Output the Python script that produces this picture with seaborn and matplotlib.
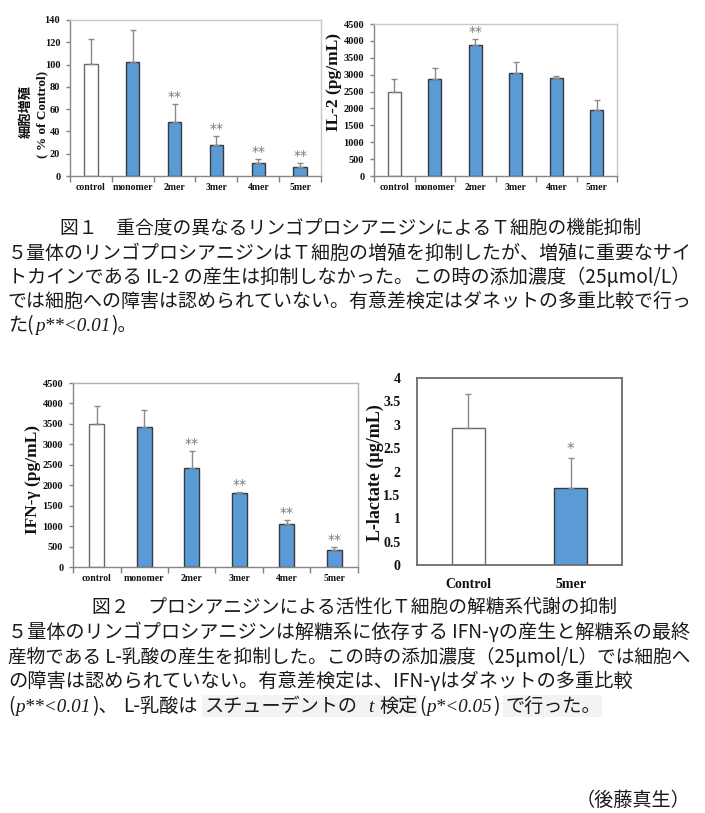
import numpy as np
import pandas as pd
import matplotlib
matplotlib.use('Agg')
import matplotlib.pyplot as plt
import seaborn as sns
from matplotlib.patches import Rectangle

# ---------------- data ----------------
categories = ['control', 'monomer', '2mer', '3mer', '4mer', '5mer']

prolif_mean = [100.2, 102.5, 48.5, 27.5, 11.9, 8.3]
prolif_sd = [22.4, 28.5, 15.8, 8.4, 3.6, 3.1]
prolif_sig = ['', '', '**', '**', '**', '**']

il2_mean = [2477, 2872, 3868, 3049, 2891, 1964]
il2_sd = [405, 316, 188, 316, 70, 276]
il2_sig = ['', '', '**', '', '', '']

ifng_mean = [3489, 3432, 2429, 1802, 1052, 424]
ifng_sd = [448, 416, 416, 24, 106, 57]
ifng_sig = ['', '', '**', '**', '**', '**']

lact_categories = ['Control', '5mer']
lact_mean = [2.92, 1.64]
lact_sd = [0.74, 0.64]
lact_sig = ['', '*']

# ---------------- style ----------------
sns.set_theme(style='white')
JP = ['Noto Sans CJK JP', 'DejaVu Sans']
plt.rcParams['font.family'] = ['Liberation Serif', 'Noto Sans CJK JP', 'DejaVu Sans']

W, H = 705, 813
fig = plt.figure(figsize=(W / 100, H / 100), dpi=100)
fig.patch.set_facecolor('white')
renderer = fig.canvas.get_renderer()

BLUE = '#5B9BD5'


def add_ax(l, t, r, b):
    return fig.add_axes([l / W, 1 - b / H, (r - l) / W, (b - t) / H])


def draw_panel(ax, cats, means, sds, sigs, ymax, ystep, ytick_fs, xtick_fs,
               spine_main, spine_light, star_fs, star_off, ypad, xpad,
               boundary_ticks=True, ytick_len=3, fmt=None, spine_lw=1.0):
    n = len(cats)
    df = pd.DataFrame({'cat': cats, 'val': means})
    fills = ['white'] + [BLUE] * (n - 1)
    sns.barplot(data=df, x='cat', y='val', hue='cat', palette=fills, width=0.32,
                legend=False, ax=ax, errorbar=None, saturation=1)
    edges = ['#6a6a6a'] + ['#3a3a3a'] * (n - 1)
    for cont, ec in zip(ax.containers, edges):
        for p in cont:
            p.set_edgecolor(ec)
            p.set_linewidth(1.0)
    xs = np.arange(n)
    ax.errorbar(xs, means, yerr=[np.zeros(n), sds], fmt='none', ecolor='#8a8a8a',
                elinewidth=1, capsize=2.5, capthick=1, zorder=1)
    for x, m, s, sg in zip(xs, means, sds, sigs):
        if sg:
            ax.annotate(sg, xy=(x, m + s), xytext=(0, star_off), textcoords='offset points',
                        ha='center', va='bottom', fontsize=star_fs, color='#7a7a7a',
                        family='DejaVu Sans')
    ax.set_xlim(-0.5, n - 0.5)
    ax.set_ylim(0, ymax)
    ticks = np.arange(0, ymax + ystep / 2, ystep)
    ax.set_yticks(ticks)
    if fmt is not None:
        ax.set_yticklabels([fmt(t) for t in ticks])
    ax.set_xlabel('')
    ax.set_ylabel('')
    ax.tick_params(axis='x', which='major', length=0, pad=xpad, labelsize=xtick_fs,
                   colors='#111111')
    if boundary_ticks:
        ax.set_xticks(np.arange(-0.5, n), minor=True)
        ax.tick_params(axis='x', which='minor', length=4, direction='out', color='#808080',
                       bottom=True, width=1)
    ax.tick_params(axis='y', length=ytick_len, direction='out', color='#808080', left=True,
                   pad=ypad, labelsize=ytick_fs, width=1, labelcolor='#111111')
    for lab in ax.get_xticklabels() + ax.get_yticklabels():
        lab.set_fontweight('bold')
        lab.set_fontfamily('Liberation Serif')
    for side in ['left', 'bottom']:
        ax.spines[side].set_color(spine_main)
        ax.spines[side].set_linewidth(spine_lw)
    for side in ['top', 'right']:
        ax.spines[side].set_color(spine_light)
        ax.spines[side].set_linewidth(spine_lw)
    ax.set_facecolor('white')


# Panel 1: proliferation
ax1 = add_ax(70, 20, 321, 176)
draw_panel(ax1, categories, prolif_mean, prolif_sd, prolif_sig, 140, 20, 7.5, 7,
           '#868686', '#c8c8c8', 10, 0, 4, 5)
fig.text(26 / W, 1 - 111 / H, '細胞増殖', rotation=90, ha='center', va='center',
         fontsize=9.5, fontweight='bold', family=JP, color='#111111')
fig.text(42 / W, 1 - 114 / H, '( % of Control)', rotation=90, ha='center', va='center',
         fontsize=9.5, fontweight='bold', family='Liberation Serif', color='#111111')

# Panel 2: IL-2
ax2 = add_ax(374, 24, 617, 176)
draw_panel(ax2, categories, il2_mean, il2_sd, il2_sig, 4500, 500, 7.5, 7,
           '#868686', '#c8c8c8', 10, 0, 4, 5)
fig.text(334 / W, 1 - 82 / H, 'IL-2 (pg/mL)', rotation=90, ha='center', va='center',
         fontsize=12.5, fontweight='bold', family='Liberation Serif', color='#111111')

# Panel 3: IFN-gamma
ax3 = add_ax(73, 383, 358, 567)
draw_panel(ax3, categories, ifng_mean, ifng_sd, ifng_sig, 4500, 500, 7.5, 7,
           '#868686', '#b0b0b0', 10, 0, 4, 5)
fig.text(33 / W, 1 - 479 / H, 'IFN-γ (pg/mL)', rotation=90, ha='center', va='center',
         fontsize=12.5, fontweight='bold', family='Liberation Serif', color='#111111')

# Panel 4: L-lactate
ax4 = add_ax(417, 378, 622, 565)
draw_panel(ax4, lact_categories, lact_mean, lact_sd, lact_sig, 4, 0.5, 10, 10,
           '#6d6d6d', '#6d6d6d', 11, 1, 12, 9, boundary_ticks=False, ytick_len=0,
           fmt=lambda t: f'{t:g}', spine_lw=1.3)
fig.text(375 / W, 1 - 473 / H, 'L-lactate (µg/mL)', rotation=90, ha='center', va='center',
         fontsize=13, fontweight='bold', family='Liberation Serif', color='#111111')

# ---------------- captions ----------------
FS = 13.8
TXT = '#1a1a1a'
ITAL = dict(family='Liberation Serif', style='italic')


def line(text, x, y, ha='left', fs=FS, right=None):
    t = fig.text(x / W, 1 - y / H, text, ha=ha, va='center', fontsize=fs, family=JP, color=TXT)
    if right is not None:
        bb = t.get_window_extent(renderer)
        t.set_fontsize(fs * (right - x) / bb.width)
    return t


def chain(parts, x, y, fs=FS):
    """parts: (text, props, start_px or None). Baseline-aligned pieces laid left to right."""
    cur = x
    base = y + 6
    for text, kw, start in parts:
        if start is not None:
            cur = start
        props = dict(fontsize=fs, family=JP, color=TXT, zorder=3)
        props.update(kw)
        t = fig.text(cur / W, 1 - base / H, text, ha='left', va='baseline', **props)
        bb = t.get_window_extent(renderer)
        cur = bb.x1 + 1


def highlight(x0, x1, y):
    fig.add_artist(Rectangle((x0 / W, 1 - (y + 11) / H), (x1 - x0) / W, 22 / H,
                             transform=fig.transFigure, fc='#f3f3f3', ec='none', zorder=1))


line('図１　重合度の異なるリンゴプロシアニジンによるＴ細胞の機能抑制', 351, 228, ha='center', fs=13.5)
line('５量体のリンゴプロシアニジンはＴ細胞の増殖を抑制したが、増殖に重要なサイ', 8, 253, right=690)
line('トカインである IL-2 の産生は抑制しなかった。この時の添加濃度（25μmol/L）', 8, 277, right=690)
line('では細胞への障害は認められていない。有意差検定はダネットの多重比較で行っ', 8, 301, right=690)
chain([('た(', {}, None), ('p**<0.01', ITAL, None), (')。', {}, None)], 8, 325)

line('図２　プロシアニジンによる活性化Ｔ細胞の解糖系代謝の抑制', 355, 607, ha='center', fs=13.5)
line('５量体のリンゴプロシアニジンは解糖系に依存する IFN-γの産生と解糖系の最終', 8, 632, right=690)
line('産物である L-乳酸の産生を抑制した。この時の添加濃度（25μmol/L）では細胞へ', 8, 657, right=690)
line('の障害は認められていない。有意差検定は、IFN-γはダネットの多重比較', 8, 681, right=630)
highlight(202, 418, 706)
highlight(503, 602, 706)
chain([('(', {}, None), ('p**<0.01', ITAL, None), (')、', {}, None), ('L-乳酸は', {}, 123),
       ('スチューデントの', {}, 204), ('t', ITAL, 368), ('検定', {}, 379),
       ('(', {}, 419), ('p*<0.05', ITAL, None), (')', {}, None),
       ('で行った。', {}, 505)], 8, 706)

line('（後藤真生）', 690, 800, ha='right')

fig.savefig('out.png', dpi=100, facecolor='white')
